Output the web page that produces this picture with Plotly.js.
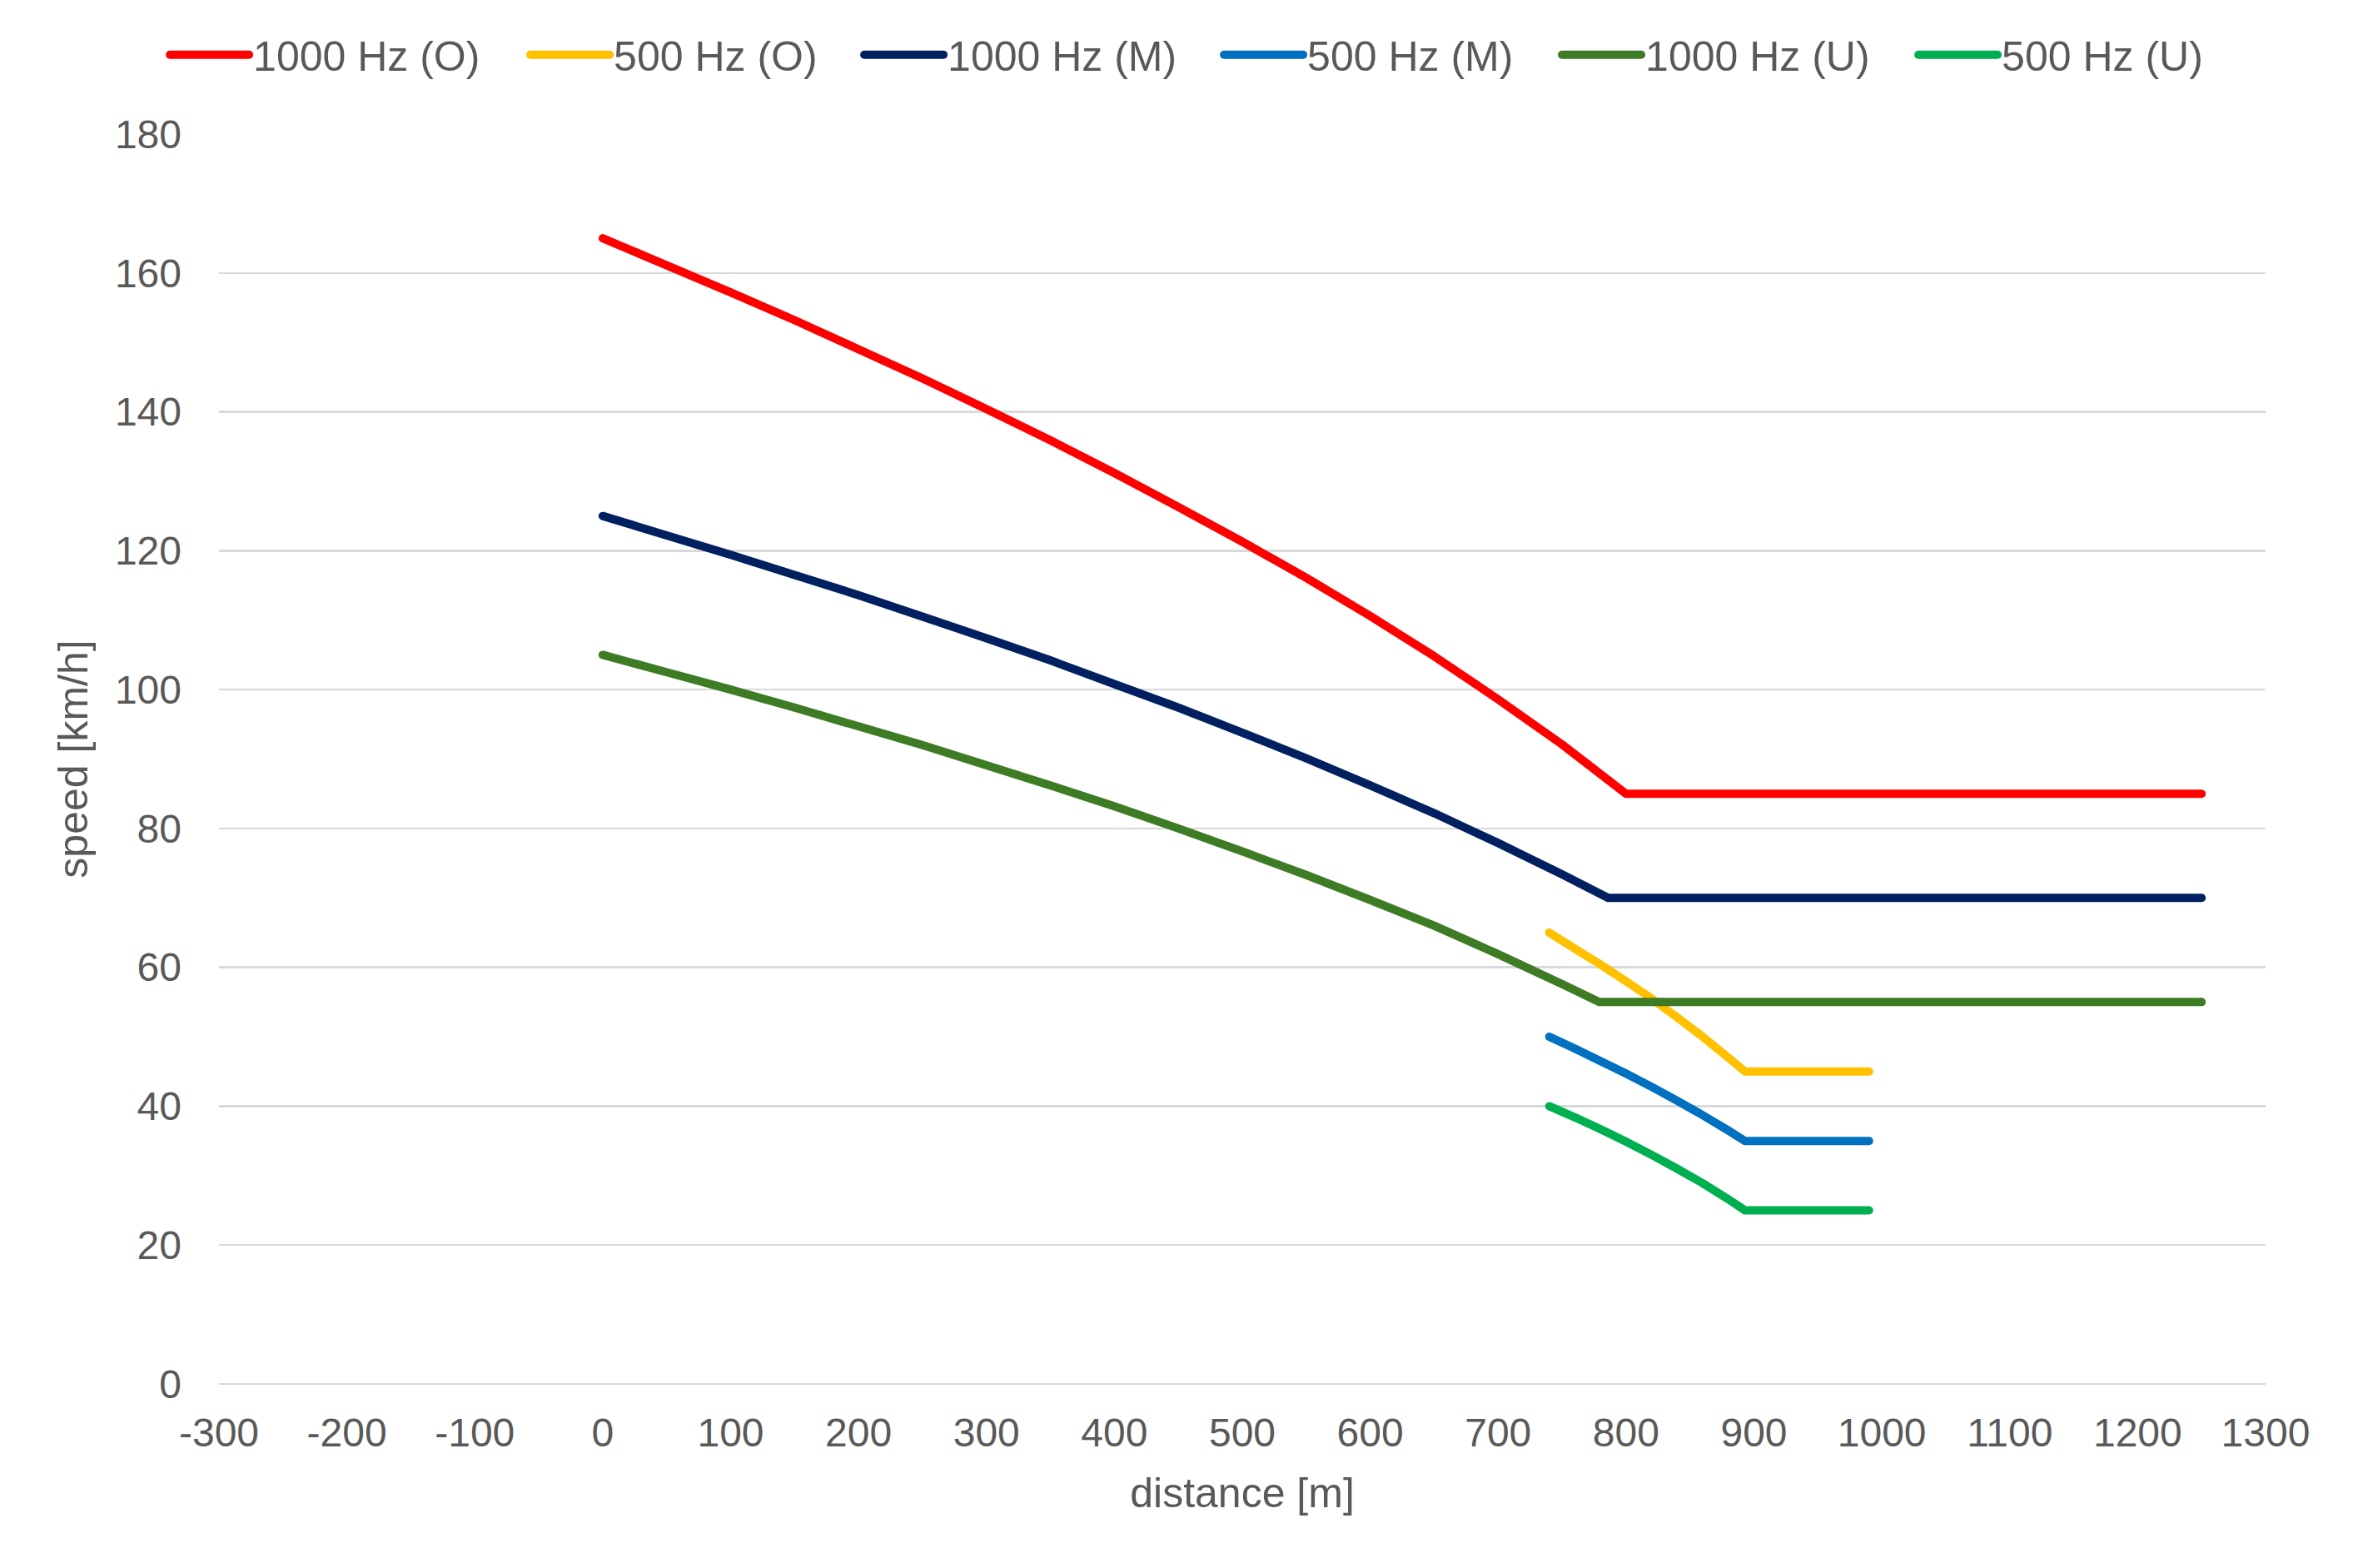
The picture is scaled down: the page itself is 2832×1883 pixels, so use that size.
<!DOCTYPE html>
<html>
<head>
<meta charset="utf-8">
<script src="https://cdn.plot.ly/plotly-3.0.1.min.js"></script>
<style>
  html, body { margin: 0; padding: 0; background: #ffffff; }
  #chart { width: 2832px; height: 1883px; }
  .scatterlayer path.js-line { stroke-linecap: round; stroke-linejoin: round; }
  .legend path.js-line { stroke-linecap: round; }
</style>
</head>
<body>
<div id="chart"></div>
<script>
// ---- data ----
const seriesNames = ["1000 Hz (O)", "500 Hz (O)", "1000 Hz (M)", "500 Hz (M)", "1000 Hz (U)", "500 Hz (U)"];

const distO1000 = [0, 50, 100, 150, 200, 250, 300, 350, 400, 450, 500, 550, 600, 650, 700, 750, 800, 1250];
const speedO1000 = [165, 161.1, 157.2, 153.2, 149.0, 144.8, 140.4, 135.9, 131.2, 126.3, 121.3, 116.1, 110.6, 104.8, 98.6, 92.1, 85, 85];

const distM1000 = [0, 50, 100, 150, 200, 250, 300, 350, 400, 450, 500, 550, 600, 650, 700, 750, 786, 1250];
const speedM1000 = [125, 122.2, 119.4, 116.5, 113.6, 110.5, 107.4, 104.2, 100.8, 97.4, 93.8, 90.1, 86.2, 82.2, 77.9, 73.4, 70, 70];

const distU1000 = [0, 50, 100, 150, 200, 250, 300, 350, 400, 450, 500, 550, 600, 650, 700, 750, 779, 1250];
const speedU1000 = [105, 102.5, 100.0, 97.4, 94.7, 92.0, 89.1, 86.2, 83.2, 80.0, 76.7, 73.3, 69.7, 66.0, 61.9, 57.6, 55, 55];

const dist500 = [740, 760, 780, 800, 820, 840, 860, 880, 893, 990];
const speedO500 = [65, 62.7, 60.4, 58.0, 55.5, 52.8, 50.0, 47.0, 45, 45];
const speedM500 = [50, 48.3, 46.5, 44.7, 42.8, 40.8, 38.7, 36.5, 35, 35];
const speedU500 = [40, 38.4, 36.7, 34.9, 33.0, 31.0, 28.9, 26.6, 25, 25];

const xTicks = [-300, -200, -100, 0, 100, 200, 300, 400, 500, 600, 700, 800, 900, 1000, 1100, 1200, 1300];
const yTicks = [0, 20, 40, 60, 80, 100, 120, 140, 160, 180];

// ---- styles ----
const colors = ["#FF0000", "#FFC000", "#002060", "#0070C0", "#3D7C24", "#00B050"];
const legendWidths = [323, 291, 322, 296, 318, 292];

// ---- traces ----
const xs = [distO1000, dist500, distM1000, dist500, distU1000, dist500];
const ys = [speedO1000, speedO500, speedM1000, speedM500, speedU1000, speedU500];

const traces = seriesNames.map((name, i) => ({
  type: "scatter",
  mode: "lines",
  name: name,
  x: xs[i],
  y: ys[i],
  line: { color: colors[i], width: 10, shape: "linear", simplify: false },
  legendwidth: legendWidths[i],
  hoverinfo: "skip"
}));

const FONT = "Liberation Sans, Arial, Helvetica, sans-serif";
const GREY = "#595959";
const GRID = "#D9D9D9";

const layout = {
  width: 2832,
  height: 1883,
  paper_bgcolor: "#ffffff",
  plot_bgcolor: "#ffffff",
  margin: { l: 263, r: 111, t: 161, b: 221, pad: 0 },
  font: { family: FONT, color: GREY, size: 48 },
  showlegend: true,
  legend: {
    orientation: "h",
    x: -0.026,
    xanchor: "left",
    y: 1.0635,
    yanchor: "middle",
    font: { family: FONT, size: 50, color: GREY },
    itemwidth: 95,
    traceorder: "normal",
    entrywidthmode: "pixels",
    bgcolor: "rgba(0,0,0,0)"
  },
  xaxis: {
    range: [-300, 1300],
    tickmode: "array",
    tickvals: xTicks,
    ticktext: xTicks.map(String),
    showgrid: false,
    zeroline: false,
    showline: false,
    ticks: "",
    ticklabelstandoff: 26,
    tickfont: { family: FONT, size: 48, color: GREY },
    title: { text: "distance [m]", font: { family: FONT, size: 50, color: GREY }, standoff: 28 },
    fixedrange: true
  },
  yaxis: {
    range: [0, 180],
    tickmode: "array",
    tickvals: yTicks,
    ticktext: yTicks.map(String),
    showgrid: true,
    gridcolor: GRID,
    gridwidth: 2.5,
    zeroline: true,
    zerolinecolor: GRID,
    zerolinewidth: 2.5,
    showline: false,
    ticks: "",
    ticklabelstandoff: 44,
    tickfont: { family: FONT, size: 48, color: GREY },
    title: { text: "speed [km/h]", font: { family: FONT, size: 50, color: GREY }, standoff: 16 },
    fixedrange: true
  }
};

Plotly.newPlot("chart", traces, layout, { displayModeBar: false, staticPlot: true });
</script>
</body>
</html>
